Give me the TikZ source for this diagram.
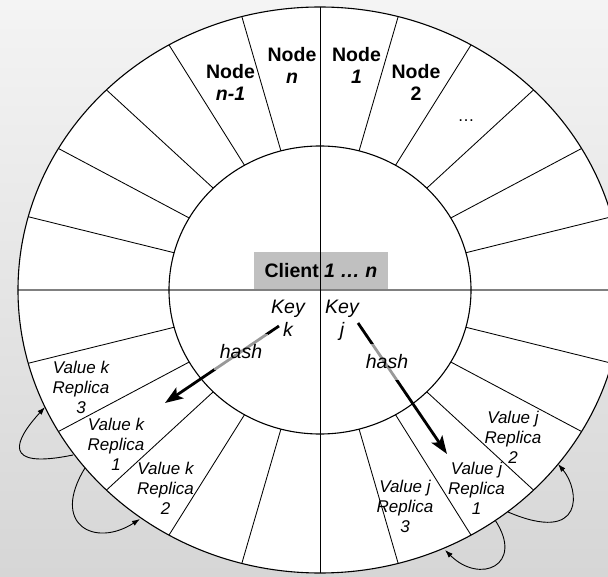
\documentclass[tikz,border=0pt]{standalone}
\usepackage{fontspec}
\setmainfont{Liberation Sans}
\usetikzlibrary{arrows.meta}
\definecolor{bgtop}{HTML}{F4F4F4}
\definecolor{bgbot}{HTML}{D6D6D6}
\definecolor{clientgray}{HTML}{C0C0C0}
\definecolor{axisgray}{HTML}{808080}

\begin{document}
\begin{tikzpicture}[x=1pt,y=-1pt,
  rim/.style={line width=1.1pt},
  spoke/.style={line width=0.85pt},
  nodelabel/.style={font=\fontsize{19.5}{22}\selectfont\bfseries, align=center, inner sep=0pt},
  replica/.style={font=\fontsize{17}{20}\selectfont\itshape, align=center, inner sep=0pt},
  keylabel/.style={font=\fontsize{19.5}{23}\selectfont\itshape, align=center, inner sep=0pt},
  hashlabel/.style={font=\fontsize{19.5}{22}\selectfont\itshape, fill=white, fill opacity=0.6,
    text opacity=1, inner sep=0pt, minimum width=54pt, minimum height=36pt},
  hasharrow/.style={line width=2.8pt, -{Stealth[length=18pt,width=13pt,inset=4pt]}},
  copyarrow/.style={line width=0.9pt, -{Latex[length=8pt,width=5.5pt]}},
]
% page and background
\useasboundingbox (0,0) rectangle (608,577);
\shade[top color=bgtop, bottom color=bgbot] (0,0) rectangle (608,577);
\clip (0,0) rectangle (608,577);

% the ring of nodes
\fill[white] (320,290) ellipse [x radius=302pt, y radius=283pt];
\node[fill=clientgray, minimum width=134pt, minimum height=38pt, inner sep=0pt,
      font=\fontsize{19.5}{22}\selectfont\bfseries] (client) at (321,271)
      {Client \textit{1 … n}};

\foreach \a in {15,30,45,60,75,105,120,135,150,165,195,210,225,240,255,285,300,315,330,345}
  \draw[spoke] ({320+151*cos(\a)},{290-144*sin(\a)}) -- ({320+302*cos(\a)},{290-283*sin(\a)});

\draw[line width=1.8pt, axisgray] (18,290) -- (622,290);
\draw[line width=0.9pt] (320,7) -- (320,573);

\draw[rim] (320,290) ellipse [x radius=151pt, y radius=144pt];
\draw[rim] (320,290) ellipse [x radius=302pt, y radius=283pt];

% node names
\node[nodelabel] (nodenm1) at (230.5,82) {Node\\\textit{n-1}};
\node[nodelabel] (noden)   at (292,65)   {Node\\\textit{n}};
\node[nodelabel] (node1)   at (356.5,65) {Node\\\textit{1}};
\node[nodelabel] (node2)   at (416,82)   {Node\\2};
\node[font=\fontsize{17}{20}\selectfont, inner sep=0pt, anchor=base] (dots) at (466,122) {…};

% keys and hashing
\node[keylabel] (keyk) at (288,318.5) {Key\\k};
\node[keylabel] (keyj) at (342,320.5) {Key\\j};

\coordinate (kstart) at (279,326);
\coordinate (ktip)   at (165,403);
\coordinate (jstart) at (358,323);
\coordinate (jtip)   at (447,454);
\draw[hasharrow] (kstart) -- (ktip);
\draw[hasharrow] (jstart) -- (jtip);
\node[hashlabel] (hashk) at (241,352) {hash};
\node[hashlabel, minimum width=50pt] (hashj) at (387,362) {hash};

% replicas
\node[replica] (vk3) at (81,387)    {Value k\\Replica\\3};
\node[replica] (vk1) at (116,444)   {Value k\\Replica\\1};
\node[replica] (vk2) at (165.5,488) {Value k\\Replica\\2};
\node[replica] (vj3) at (405,506)   {Value j\\Replica\\3};
\node[replica] (vj1) at (476.5,488) {Value j\\Replica\\1};
\node[replica] (vj2) at (513,437)   {Value j\\Replica\\2};

% replication loops outside the ring
\coordinate (k1a) at (73,455);
\coordinate (k3in) at (45,407);
\coordinate (k1b) at (85,468);
\coordinate (k2in) at (140,519);
\coordinate (j1a) at (508,512);
\coordinate (j2in) at (558,464);
\coordinate (j1b) at (495,520);
\coordinate (j3in) at (445,550);
\draw[copyarrow] (k1a) .. controls (0,470) and (15,440) .. (k3in);
\draw[copyarrow] (k1b) .. controls (50,525) and (95,548) .. (k2in);
\draw[copyarrow] (j1a) .. controls (585,545) and (580,490) .. (j2in);
\draw[copyarrow] (j1b) .. controls (525,565) and (480,585) .. (j3in);
\end{tikzpicture}
\end{document}
